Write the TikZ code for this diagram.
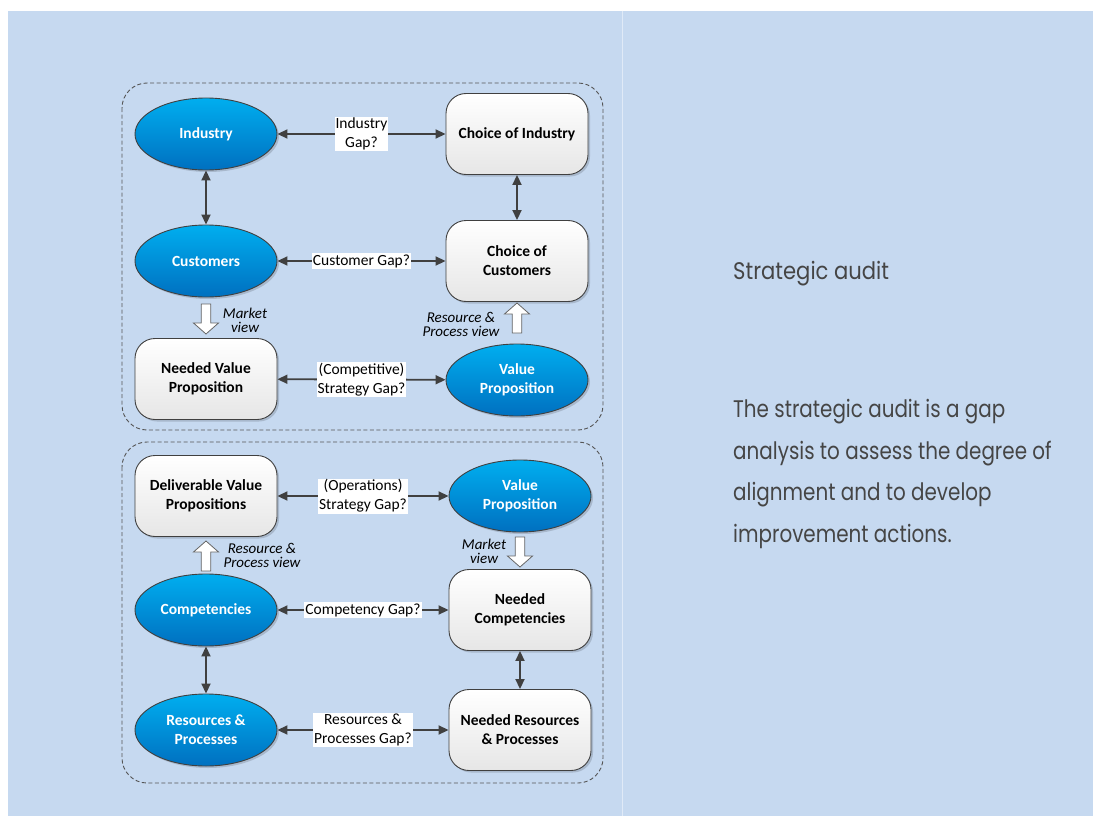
\documentclass[tikz,border=0pt]{standalone}
\usepackage{fontspec}
\setmainfont{Carlito}
\newfontfamily\sidefont[FakeStretch=0.83]{Poppins}
\newfontfamily\sidetitlefont[FakeStretch=0.88]{Poppins}
\usetikzlibrary{arrows.meta,shadows,shapes.geometric}

\definecolor{pagebg}{HTML}{C6D9F0}
\definecolor{edge}{HTML}{404040}
\definecolor{blueTop}{HTML}{00AEEF}
\definecolor{blueBot}{HTML}{0070C0}
\definecolor{boxBot}{HTML}{E6E6E6}
\definecolor{sidetext}{HTML}{454545}
\definecolor{frame}{HTML}{555555}

\tikzset{
  base/.style={draw=edge, line width=0.9pt, minimum width=142pt, align=center,
    font=\fontsize{15.5}{19}\selectfont\bfseries,
    drop shadow={shadow xshift=2pt, shadow yshift=-2pt, fill=black, opacity=0.15}},
  oval/.style={base, ellipse, inner sep=0pt, minimum height=72pt,
    top color=blueTop, bottom color=blueBot, text=white},
  card/.style={base, rounded corners=20pt, minimum height=81pt,
    top color=white, bottom color=boxBot, text=black},
  gap/.style={fill=white, inner sep=1pt, align=center,
    font=\fontsize{15.5}{19}\selectfont},
  link/.style={draw=edge, line width=1.8pt,
    {Triangle[length=10pt,width=9pt]}-{Triangle[length=10pt,width=9pt]}},
  viewnote/.style={font=\fontsize{15}{14}\selectfont\itshape, align=center, inner sep=0pt},
  group/.style={draw=frame, line width=0.9pt, dash pattern=on 4pt off 2.5pt, rounded corners=25pt},
  hollow arrow/.pic={
    \draw[draw=edge!80, line width=0.8pt, fill=white]
      (-4.7,0) -- (-4.7,19) -- (-12.5,19) -- (0,30) -- (12.5,19) -- (4.7,19) -- (4.7,0) -- cycle;
  }
}

\begin{document}
\begin{tikzpicture}[x=1pt, y=-1pt]
  % page
  \useasboundingbox (0,0) rectangle (1093,816);
  \fill[white] (0,0) rectangle (1093,816);
  \fill[pagebg] (8,11) rectangle (1093,816);
  \draw[white!45!pagebg, line width=1pt] (622,11) -- (622,816);

  % group frames
  \draw[group] (122,83) rectangle (603,430);
  \draw[group] (122,442) rectangle (603,783);

  % upper group: market-based view
  \node[oval] (ind)  at (206,134) {Industry};
  \node[card] (cind) at (517,134) {Choice of Industry};
  \node[oval] (cust) at (206,261) {Customers};
  \node[card] (ccust) at (517,261) {Choice of\\Customers};
  \node[card] (nvp)  at (206,379) {Needed Value\\Proposition};
  \node[oval] (vp1)  at (517,380) {Value\\Proposition};

  \draw[link] (ind) -- node[gap] {Industry\\Gap?} (cind);
  \draw[link] (cust) -- node[gap] {Customer Gap?} (ccust);
  \draw[link] (nvp) -- node[gap] {(Competitive)\\Strategy Gap?} (vp1);
  \draw[link] (ind) -- (cust);
  \draw[link] (cind) -- (ccust);

  \pic at (206,304) {hollow arrow};
  \node[viewnote] (mv1) at (245,320) {Market\\view};
  \pic[rotate=180] at (517,333) {hollow arrow};
  \node[viewnote] (rp1) at (461,324) {Resource \&\\Process view};

  % lower group: resource-based view
  \node[card] (dvp)  at (206,496) {Deliverable Value\\Propositions};
  \node[oval] (vp2)  at (520,496) {Value\\Proposition};
  \node[oval] (comp) at (206,610) {Competencies};
  \node[card] (ncomp) at (520,610) {Needed\\Competencies};
  \node[oval] (rp)   at (206,730) {Resources \&\\Processes};
  \node[card] (nrp)  at (520,730) {Needed Resources\\\& Processes};

  \draw[link] (dvp) -- node[gap] {(Operations)\\Strategy Gap?} (vp2);
  \draw[link] (comp) -- node[gap] {Competency Gap?} (ncomp);
  \draw[link] (rp) -- node[gap] {Resources \&\\Processes Gap?} (nrp);
  \draw[link] (comp) -- (rp);
  \draw[link] (ncomp) -- (nrp);

  \pic[rotate=180] at (206,571) {hollow arrow};
  \node[viewnote] (rp2) at (262,555) {Resource \&\\Process view};
  \pic at (520,537) {hollow arrow};
  \node[viewnote] (mv2) at (484,551) {Market\\view};

  % side text
  \node[anchor=base west, inner sep=0pt, text=sidetext,
        font=\sidetitlefont\fontsize{24}{28}\selectfont] (title) at (733,279) {Strategic audit};
  \node[anchor=base west, inner sep=0pt, text=sidetext, align=left,
        font=\sidefont\fontsize{24}{41.5}\selectfont] (body) at (733,542)
    {The strategic audit is a gap\\analysis to assess the degree of\\alignment and to develop\\improvement actions.};
\end{tikzpicture}
\end{document}
